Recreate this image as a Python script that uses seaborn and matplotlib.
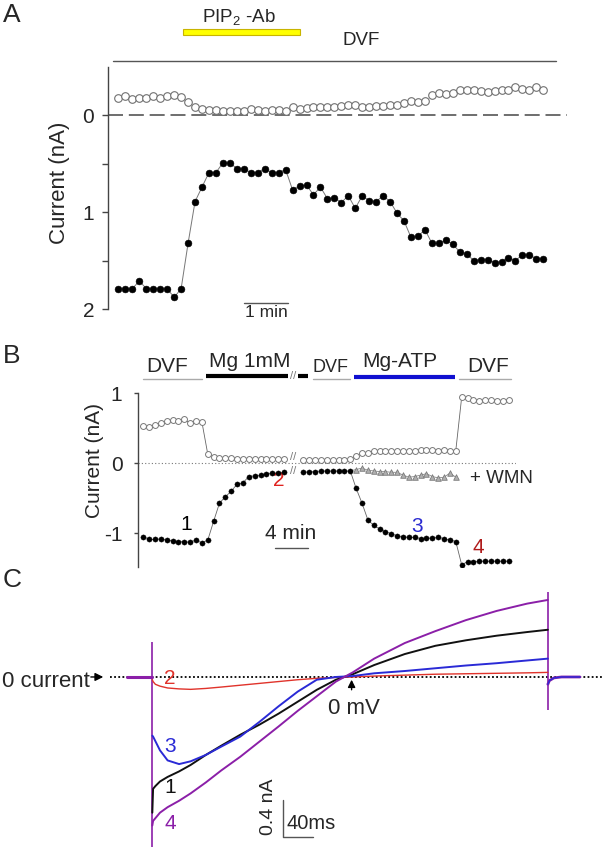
import numpy as np
import matplotlib
matplotlib.use("Agg")
import matplotlib.pyplot as plt
import seaborn as sns
from matplotlib.patches import Rectangle

sns.set_theme(style="white")
plt.rcParams['font.family'] = ['Liberation Sans', 'DejaVu Sans']
plt.rcParams['mathtext.fontset'] = 'custom'
plt.rcParams['mathtext.rm'] = 'Liberation Sans'
plt.rcParams['mathtext.it'] = 'Liberation Sans:italic'

# ---------------- Panel A: PIP2 antibody, currents per sweep (nA) ----------------
a_dt = 0.158  # min between sweeps
a_inward = [-1.79, -1.79, -1.79, -1.71, -1.79, -1.79, -1.79, -1.79, -1.88, -1.79,
            -1.32, -0.89, -0.74, -0.59, -0.59, -0.49, -0.49, -0.55, -0.55, -0.59,
            -0.59, -0.55, -0.59, -0.59, -0.56, -0.77, -0.73, -0.72, -0.82, -0.74,
            -0.86, -0.85, -0.90, -0.83, -0.96, -0.83, -0.88, -0.89, -0.83, -0.89,
            -1.01, -1.09, -1.26, -1.25, -1.18, -1.32, -1.32, -1.29, -1.33, -1.41,
            -1.43, -1.50, -1.49, -1.49, -1.52, -1.51, -1.47, -1.50, -1.44, -1.44,
            -1.48, -1.48]
a_outward = [0.18, 0.20, 0.17, 0.18, 0.18, 0.20, 0.18, 0.20, 0.21, 0.19,
             0.14, 0.09, 0.07, 0.06, 0.06, 0.05, 0.045, 0.05, 0.05, 0.07,
             0.06, 0.05, 0.06, 0.06, 0.05, 0.09, 0.07, 0.08, 0.09, 0.09,
             0.09, 0.09, 0.10, 0.11, 0.11, 0.09, 0.09, 0.10, 0.10, 0.11,
             0.11, 0.13, 0.15, 0.14, 0.15, 0.21, 0.23, 0.22, 0.23, 0.26,
             0.26, 0.26, 0.25, 0.24, 0.25, 0.26, 0.26, 0.29, 0.27, 0.26,
             0.29, 0.26]
a_pip2_window = (1.47, 4.12)   # min
a_dvf_window = (-0.12, 9.92)   # min
a_scalebar = (2.85, 3.85)      # 1 min

# ---------------- Panel B: Mg / Mg-ATP, currents per sweep (nA) ----------------
b_dt = 0.703        # min between sweeps
b_seg2_start = 19.2  # min, after the break
b_seg1_inward = [-1.05, -1.09, -1.09, -1.08, -1.10, -1.11, -1.12, -1.12, -1.13, -1.10,
                 -1.14, -1.10, -0.83, -0.57, -0.48, -0.40, -0.30, -0.28, -0.19, -0.18,
                 -0.17, -0.15, -0.14, -0.14, -0.13]
b_seg1_outward = [0.53, 0.52, 0.55, 0.57, 0.60, 0.62, 0.60, 0.63, 0.57, 0.60,
                  0.59, 0.13, 0.09, 0.07, 0.07, 0.07, 0.06, 0.06, 0.06, 0.06,
                  0.06, 0.06, 0.06, 0.06, 0.06]
b_seg2_inward = [-0.13, -0.12, -0.12, -0.11, -0.11, -0.11, -0.11, -0.11, -0.11,
                 -0.36, -0.57, -0.81, -0.89, -0.94, -0.98, -1.01, -1.04, -1.05,
                 -1.06, -1.06, -1.08, -1.07, -1.07, -1.06, -1.08, -1.10, -1.12,
                 -1.45, -1.41, -1.41, -1.40, -1.40, -1.40, -1.40, -1.40, -1.40]
b_seg2_outward = [0.05, 0.05, 0.05, 0.05, 0.05, 0.05, 0.05, 0.05, 0.06,
                  0.10, 0.14, 0.15, 0.17, 0.17, 0.18, 0.18, 0.18, 0.18,
                  0.18, 0.18, 0.19, 0.19, 0.19, 0.18, 0.19, 0.18, 0.18,
                  0.94, 0.93, 0.91, 0.89, 0.91, 0.91, 0.89, 0.89, 0.91]
b_wmn_first = 8  # sweep (segment 2) where wortmannin branch starts
b_wmn = [-0.11, -0.09, -0.07, -0.10, -0.11, -0.12, -0.12, -0.13, -0.13, -0.17,
         -0.20, -0.19, -0.17, -0.15, -0.19, -0.21, -0.20, -0.14, -0.20]
b_dvf_windows = [(-0.07, 7.0), (20.4, 24.8), (37.9, 44.1)]
b_mg_windows = [(7.52, 17.4), (18.5, 19.8)]
b_atp_window = (25.3, 37.4)
b_scalebar = (15.8, 19.8)  # 4 min

# ---------------- Panel C: ramp currents (nA vs ms) ----------------
c_time = [0, 1, 4, 10, 20, 35, 50, 70, 90, 115, 140, 165, 190, 215, 240, 262,
          290, 330, 370, 410, 450, 490, 517]
c_trace1 = [-1.48, -1.22, -1.19, -1.14, -1.09, -1.03, -0.96, -0.85, -0.75, -0.63,
            -0.52, -0.40, -0.27, -0.14, -0.03, 0.03, 0.13, 0.25, 0.34, 0.40,
            0.45, 0.49, 0.515]
c_trace2 = [-0.03, -0.05, -0.08, -0.10, -0.12, -0.13, -0.135, -0.125, -0.11, -0.09,
            -0.07, -0.05, -0.03, -0.015, -0.005, 0.0, 0.01, 0.02, 0.03, 0.035,
            0.04, 0.045, 0.05]
c_trace3 = [-0.64, -0.65, -0.70, -0.80, -0.91, -0.95, -0.92, -0.85, -0.76, -0.65,
            -0.49, -0.32, -0.16, -0.03, 0.0, 0.01, 0.04, 0.065, 0.095, 0.125,
            0.15, 0.18, 0.20]
c_trace4 = [-1.62, -1.57, -1.54, -1.48, -1.42, -1.35, -1.27, -1.15, -1.02, -0.87,
            -0.705, -0.54, -0.37, -0.21, -0.05, 0.05, 0.20, 0.37, 0.50, 0.62,
            0.72, 0.80, 0.84]
c_pre_time = [-33, 0]
c_pre = [0.0, 0.0]
c_post_time = [517, 519, 525, 535, 559]
c_post = [-0.08, -0.04, -0.01, 0.0, 0.0]
c_onset_spike = (-1.85, 0.385)
c_offset_spike = (-0.36, 0.93)
c_colors = {'1': '#111111', '2': '#e0332b', '3': '#2a2ad6', '4': '#8b1fa8'}

W, H = 602, 852


def px_rect(l, t, r, b):
    return [l / W, 1 - b / H, (r - l) / W, (b - t) / H]


fig = plt.figure(figsize=(W / 100, H / 100), dpi=100)
fig.patch.set_facecolor('white')
for lab, (x, y) in zip("ABC", [(3, 3), (3, 344), (3, 568)]):
    fig.text(x / W, 1 - y / H, lab, fontsize=19, ha='left', va='top')

# ---------------- A ----------------
axA = fig.add_axes(px_rect(108, 67, 567, 309))
tA = np.arange(len(a_inward)) * a_dt
sns.lineplot(x=tA, y=a_inward, ax=axA, color='#777777', linewidth=0.7,
             estimator=None, sort=False, legend=False)
sns.scatterplot(x=tA, y=a_inward, ax=axA, color='black', edgecolor='black',
                s=24, linewidth=0.4, zorder=3, legend=False)
sns.scatterplot(x=tA, y=a_outward, ax=axA, color='white', edgecolor='#707070',
                s=30, linewidth=0.8, zorder=3, legend=False)
axA.axhline(0, color='#555555', lw=1.2, dashes=(9, 3.5), zorder=1)
axA.set_xlim(-1.5 * a_dt, 64.4 * a_dt)
axA.set_ylim(-2.0, 0.5)
for s in ['top', 'right', 'bottom']:
    axA.spines[s].set_visible(False)
axA.spines['left'].set_color('#444444')
axA.spines['left'].set_linewidth(1.0)
axA.set_xticks([])
axA.set_yticks([0, -1, -2])
axA.set_yticklabels(['0', '1', '2'])
axA.set_yticks([-0.5, -1.5], minor=True)
axA.tick_params(axis='y', which='both', left=True, direction='out', length=4,
                width=1, color='#444444', labelsize=15, pad=6)
axA.set_ylabel('Current (nA)', fontsize=16)
axA.yaxis.set_label_coords(-0.082, 0.523)

trA = axA.get_xaxis_transform()
axA.add_patch(Rectangle((a_pip2_window[0], 1.132), a_pip2_window[1] - a_pip2_window[0], 0.025,
                        transform=trA, facecolor='#ffff00', edgecolor='#c8b400', lw=0.8,
                        clip_on=False))
axA.text(np.mean(a_pip2_window) - 0.07, 1.187, r'PIP$_\mathrm{2}$ -Ab', transform=trA,
         ha='center', va='baseline', fontsize=13.5)
axA.plot(a_dvf_window, [1.025, 1.025], transform=trA, color='#555555', lw=1, clip_on=False)
axA.text(5.5, 1.091, 'DVF', transform=trA, ha='center', va='baseline', fontsize=13.5)
axA.plot(a_scalebar, [0.025, 0.025], transform=trA, color='#555555', lw=1, clip_on=False)
axA.text(np.mean(a_scalebar), 0.018, '1 min', transform=trA, ha='center', va='top',
         fontsize=12.5)

# ---------------- B ----------------
axB = fig.add_axes(px_rect(137.7, 393.3, 516, 566.7))
t1 = np.arange(len(b_seg1_inward)) * b_dt
t2 = b_seg2_start + np.arange(len(b_seg2_inward)) * b_dt
tw = t2[b_wmn_first:b_wmn_first + len(b_wmn)]
for tt, vin, vout in [(t1, b_seg1_inward, b_seg1_outward), (t2, b_seg2_inward, b_seg2_outward)]:
    sns.lineplot(x=tt, y=vin, ax=axB, color='#666666', linewidth=0.6,
                 estimator=None, sort=False, legend=False)
    sns.lineplot(x=tt, y=vout, ax=axB, color='#666666', linewidth=0.6,
                 estimator=None, sort=False, legend=False)
sns.lineplot(x=tw, y=b_wmn, ax=axB, color='#888888', linewidth=0.6,
             estimator=None, sort=False, legend=False)
sns.scatterplot(x=tw[1:], y=b_wmn[1:], ax=axB, marker='^', color='#b0b0b0',
                edgecolor='#7a7a7a', s=16, linewidth=0.6, zorder=3, legend=False)
for tt, vin, vout in [(t1, b_seg1_inward, b_seg1_outward), (t2, b_seg2_inward, b_seg2_outward)]:
    sns.scatterplot(x=tt, y=vout, ax=axB, color='white', edgecolor='#777777',
                    s=18, linewidth=0.7, zorder=3, legend=False)
    sns.scatterplot(x=tt, y=vin, ax=axB, color='black', edgecolor='black',
                    s=14, linewidth=0.3, zorder=4, legend=False)
axB.axhline(0, color='#777777', lw=0.8, ls=(0, (1, 2)), zorder=1)
axB.set_xlim(-0.67, 44.7)
axB.set_ylim(-1.48, 1.0)
for s in ['top', 'right', 'bottom']:
    axB.spines[s].set_visible(False)
axB.spines['left'].set_color('#444444')
axB.spines['left'].set_linewidth(1.0)
axB.set_xticks([])
axB.set_yticks([1, 0, -1])
axB.set_yticklabels(['1', '0', '-1'])
axB.tick_params(axis='y', left=True, direction='out', length=3, width=1,
                color='#444444', labelsize=15, pad=8)
axB.set_ylabel('Current (nA)', fontsize=15)
axB.yaxis.set_label_coords(-0.09, 0.611)

trB = axB.get_xaxis_transform()
for w in b_dvf_windows:
    axB.plot(w, [1.083, 1.083], transform=trB, color='#aaaaaa', lw=1, clip_on=False)
for w in b_mg_windows:
    axB.plot(w, [1.099, 1.099], transform=trB, color='black', lw=3, clip_on=False,
             solid_capstyle='butt')
axB.plot(b_atp_window, [1.096, 1.096], transform=trB, color='#1010d0', lw=3,
         clip_on=False, solid_capstyle='butt')
axB.text(18.0, 1.099, '//', transform=trB, ha='center', va='center', fontsize=8, color='#777777')
for x, txt, fs, yb in [(2.9, 'DVF', 15, 1.123), (12.8, 'Mg 1mM', 15, 1.154),
                       (22.5, 'DVF', 13, 1.123), (30.8, 'Mg-ATP', 15, 1.154),
                       (41.4, 'DVF', 15, 1.123)]:
    axB.text(x, yb, txt, transform=trB, ha='center', va='baseline', fontsize=fs)
axB.text(18.0, 0.09, '//', ha='center', va='center', fontsize=8, color='#777777')
axB.text(18.0, -0.11, '//', ha='center', va='center', fontsize=8, color='#777777')
axB.text(5.14, -0.88, '1', color='black', fontsize=15, ha='center', va='center')
axB.text(16.2, -0.24, '2', color='#e0231f', fontsize=15, ha='center', va='center')
axB.text(32.8, -0.90, '3', color='#2a2ad0', fontsize=15, ha='center', va='center')
axB.text(40.2, -1.21, '4', color='#b01c1c', fontsize=15, ha='center', va='center')
axB.text(39.2, -0.214, '+ WMN', fontsize=13.5, ha='left', va='center', clip_on=False)
axB.plot(b_scalebar, [-1.214, -1.214], color='#555555', lw=1)
axB.text(np.mean(b_scalebar) - 0.1, -1.0, '4 min', fontsize=15, ha='center', va='center')

# ---------------- C ----------------
axC = fig.add_axes(px_rect(0, 585, 602, 850))
axC.set_axis_off()
axC.set_xlim(-199.1, 587.8)
axC.set_ylim(-1.887, 1.003)
axC.axhline(0, xmin=110 / W, xmax=1.0, color='black', lw=1.3, ls=(0, (1, 1.3)), zorder=1)
axC.vlines(0, *c_onset_spike, color=c_colors['4'], lw=1.2, zorder=2)
axC.vlines(c_time[-1], *c_offset_spike, color=c_colors['4'], lw=1.2, zorder=2)
sns.lineplot(x=c_pre_time, y=c_pre, ax=axC, color=c_colors['4'], linewidth=2.2,
             estimator=None, sort=False, legend=False)
for key, tr, lw in [('2', c_trace2, 1.0), ('1', c_trace1, 1.4), ('3', c_trace3, 1.4),
                    ('4', c_trace4, 1.4)]:
    sns.lineplot(x=c_time, y=tr, ax=axC, color=c_colors[key], linewidth=lw,
                 estimator=None, sort=False, legend=False, zorder=3)
sns.lineplot(x=c_post_time, y=c_post, ax=axC, color=c_colors['4'], linewidth=2.0,
             estimator=None, sort=False, legend=False)
sns.lineplot(x=c_post_time, y=c_post, ax=axC, color=c_colors['3'], linewidth=1.0,
             estimator=None, sort=False, legend=False)
for key, (x, y) in {'1': (23.4, -1.20), '2': (22.2, -0.014), '3': (23.1, -0.76),
                    '4': (23.1, -1.595)}.items():
    axC.text(x, y, key, color=c_colors[key], fontsize=15, ha='center', va='center')
axC.text(-197, -0.045, '0 current', fontsize=16, ha='left', va='center')
axC.annotate('', xy=(-60.5, 0), xytext=(-84, 0),
             arrowprops=dict(arrowstyle='-|>', color='black', lw=1, mutation_scale=12))
axC.annotate('', xy=(260.5, 0.0), xytext=(260.5, -0.17),
             arrowprops=dict(arrowstyle='-|>', color='black', lw=1, mutation_scale=11))
axC.text(263, -0.34, '0 mV', fontsize=16, ha='center', va='center')
axC.plot([170.5, 170.5, 210.5], [-1.342, -1.742, -1.742], color='#555555', lw=1)
axC.text(207.7, -1.60, '40ms', fontsize=14.5, ha='center', va='center')
axC.text(151.6, -1.414, '0.4 nA', fontsize=14, ha='center', va='center', rotation=90)

fig.savefig('out.png', dpi=100)
